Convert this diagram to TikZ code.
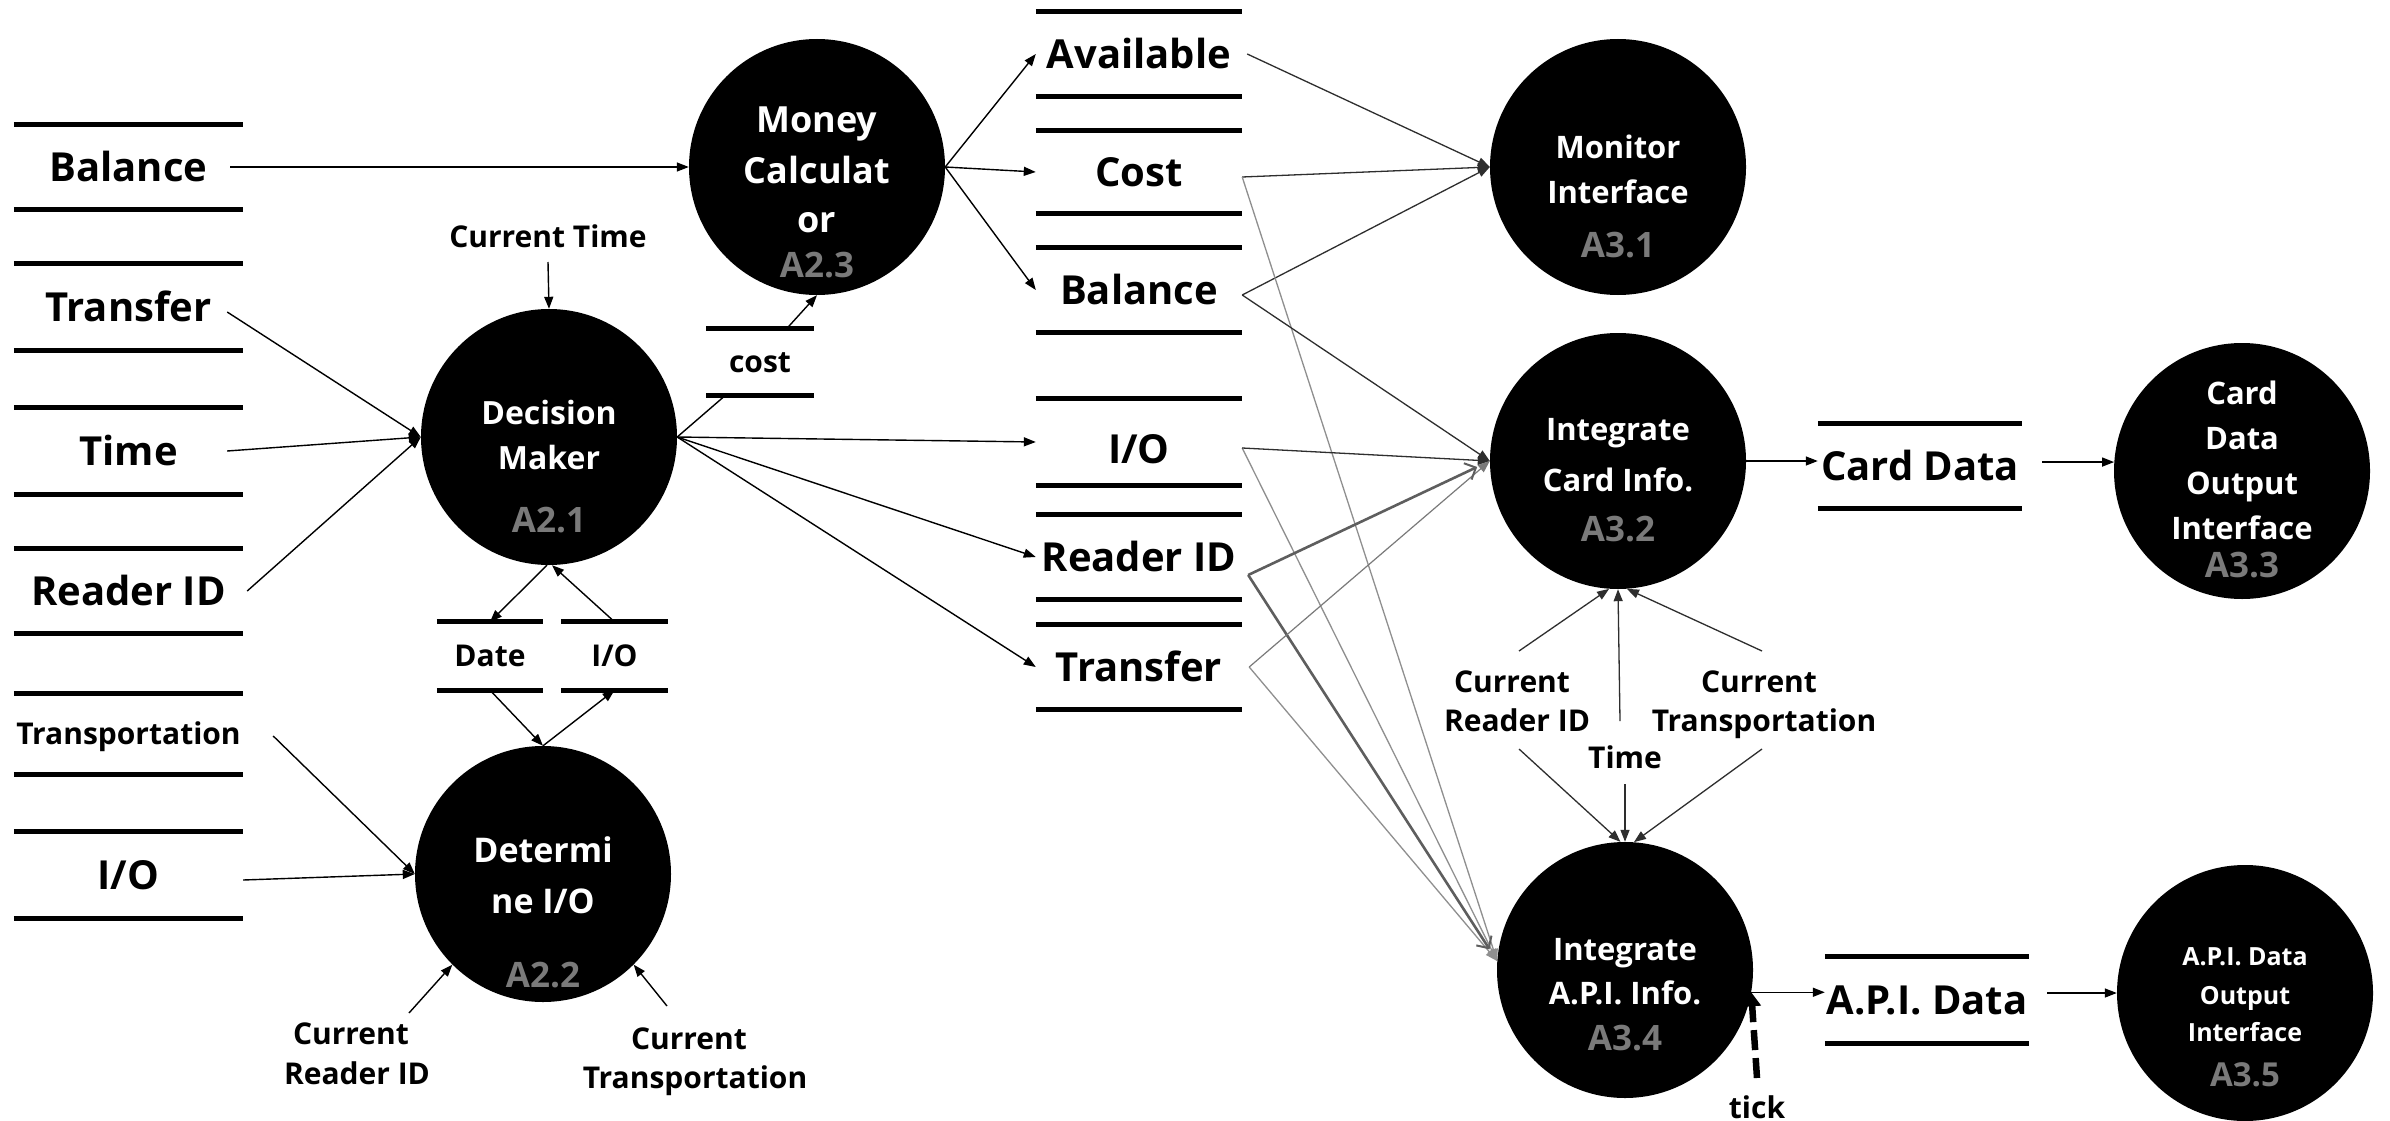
\documentclass[tikz,border=0pt]{standalone}
\usepackage{fontspec}
\setmainfont{Open Sans}
\usetikzlibrary{arrows.meta,calc}

\definecolor{idgray}{HTML}{7A7A7A}
\definecolor{darkflow}{HTML}{2E2E2E}
\definecolor{midflow}{HTML}{5E5E5E}
\definecolor{softflow}{HTML}{7A7A7A}
\definecolor{paleflow}{HTML}{8F8F8F}

\newcommand{\dfdfont}[1]{\fontsize{#1}{#1}\selectfont\bfseries}
\newcommand{\storebars}[1]{\draw[bar] (#1.north west) -- (#1.north east) (#1.south west) -- (#1.south east);}

\tikzset{
  proc/.style={circle, fill=black, minimum size=256pt, inner sep=0pt},
  ptxt/.style={anchor=base, inner sep=0pt, text=white, font=\dfdfont{#1}},
  pid/.style={anchor=base, inner sep=0pt, text=idgray, font=\dfdfont{#1}},
  lab/.style={anchor=base, inner sep=0pt, font=\dfdfont{#1}},
  bigstore/.style={inner sep=0pt, font=\dfdfont{40}, text height=28.6pt, text depth=0pt},
  smallstore/.style={inner sep=0pt, font=\dfdfont{30}, text height=21.4pt, text depth=0pt},
  bar/.style={line width=5pt},
  flow/.style={line width=1.4pt, black, -{Triangle[length=12pt,width=9pt]}},
  flowline/.style={line width=1.4pt, black},
  toMon/.style={line width=1.3pt, darkflow, -{Triangle[length=12pt,width=9pt]}},
  soft/.style={line width=1.2pt, softflow, -{Triangle[length=12pt,width=9pt]}},
  pale/.style={line width=1.3pt, paleflow, -{Triangle[length=12pt,width=9pt]}},
  heavy/.style={line width=2.6pt, midflow, -{Straight Barb[length=9pt,width=18pt,line width=2pt]}, shorten >=14pt},
  tickflow/.style={line width=6.5pt, dash pattern=on 20pt off 8pt, -{Triangle[length=14pt,width=17pt]}},
}

\begin{document}
\begin{tikzpicture}[x=1pt,y=-1pt]
\fill[white] (0,0) rectangle (2390,1121);
\useasboundingbox (0,0) rectangle (2390,1121);

% ---------- processes ----------
\node[proc] (pMC) at (817,167) {};
\node[ptxt=36] (pMCa) at (817,132) {Money};
\node[ptxt=36] (pMCb) at (817,183) {Calculat};
\node[ptxt=36] (pMCc) at (817,232) {or};
\node[pid=35] (pMCid) at (817,277) {A2.3};

\node[proc] (pDM) at (549,437) {};
\node[ptxt=32] (pDMa) at (549,424) {Decision};
\node[ptxt=32] (pDMb) at (549,469) {Maker};
\node[pid=35] (pDMid) at (549,532) {A2.1};

\node[proc] (pDet) at (543,874) {};
\node[ptxt=34] (pDeta) at (543,862) {Determi};
\node[ptxt=34] (pDetb) at (543,913) {ne I/O};
\node[pid=35] (pDetid) at (543,987) {A2.2};

\node[proc] (pMon) at (1618,167) {};
\node[ptxt=31] (pMona) at (1618,158) {Monitor};
\node[ptxt=31] (pMonb) at (1618,203) {Interface};
\node[pid=35] (pMonid) at (1618,257) {A3.1};

\node[proc] (pCard) at (1618,461) {};
\node[ptxt=31] (pCarda) at (1618,440) {Integrate};
\node[ptxt=31] (pCardb) at (1618,491) {Card Info.};
\node[pid=35] (pCardid) at (1618,541) {A3.2};

\node[proc] (pCardOut) at (2242,471) {};
\node[ptxt=31] (pCOa) at (2242,404) {Card};
\node[ptxt=31] (pCOb) at (2242,449) {Data};
\node[ptxt=31] (pCOc) at (2242,494) {Output};
\node[ptxt=31] (pCOd) at (2242,539) {Interface};
\node[pid=35] (pCOid) at (2242,577) {A3.3};

\node[proc] (pApi) at (1625,970) {};
\node[ptxt=31] (pApia) at (1625,960) {Integrate};
\node[ptxt=31] (pApib) at (1625,1004) {A.P.I. Info.};
\node[pid=35] (pApiid) at (1625,1050) {A3.4};

\node[proc] (pApiOut) at (2245,993) {};
\node[ptxt=25] (pAOa) at (2245,965) {A.P.I. Data};
\node[ptxt=25] (pAOb) at (2245,1004) {Output};
\node[ptxt=25] (pAOc) at (2245,1041) {Interface};
\node[pid=33] (pAOid) at (2245,1086) {A3.5};

% ---------- data stores, left column ----------
\node[bigstore, minimum width=229pt, minimum height=84pt] (lBal) at (128.5,167) {Balance};
\node[bigstore, minimum width=229pt, minimum height=86pt] (lTra) at (128.5,307) {Transfer};
\node[bigstore, minimum width=229pt, minimum height=86pt] (lTim) at (128.5,451) {Time};
\node[bigstore, minimum width=229pt, minimum height=84pt] (lRid) at (128.5,591) {Reader ID};
\node[smallstore, minimum width=229pt, minimum height=80pt] (lTrp) at (128.5,734) {Transportation};
\node[bigstore, minimum width=229pt, minimum height=86pt] (lIO) at (128.5,875) {I/O};

% ---------- data stores, middle column ----------
\node[bigstore, minimum width=206pt, minimum height=84pt] (mAva) at (1139,54) {Available};
\node[bigstore, minimum width=206pt, minimum height=83pt] (mCos) at (1139,172) {Cost};
\node[bigstore, minimum width=206pt, minimum height=84pt] (mBal) at (1139,290) {Balance};
\node[bigstore, minimum width=206pt, minimum height=86pt, text height=42pt] (mIO) at (1139,442) {I/O};
\node[bigstore, minimum width=206pt, minimum height=85pt] (mRid) at (1139,557) {Reader ID};
\node[bigstore, minimum width=206pt, minimum height=84pt] (mTrf) at (1139,667) {Transfer};

% ---------- small and output stores ----------
\node[smallstore, minimum width=107pt, minimum height=67pt] (sCost) at (760,362) {cost};
\node[smallstore, minimum width=106pt, minimum height=68pt] (sDate) at (490,656) {Date};
\node[smallstore, minimum width=107pt, minimum height=68pt] (sIO) at (614.5,656) {I/O};
\node[bigstore, minimum width=204pt, minimum height=85pt] (sCard) at (1920,466) {Card Data};
\node[bigstore, minimum width=204pt, minimum height=86pt] (sApi) at (1927,1000) {A.P.I. Data};

\foreach \s in {lBal,lTra,lTim,lRid,lTrp,lIO,mAva,mCos,mBal,mIO,mRid,mTrf,sCost,sDate,sIO,sCard,sApi}{\storebars{\s}}

% ---------- free labels ----------
\node[lab=30] (tCurTime) at (548,247) {Current Time};
\node[lab=30] (tCR1a) at (351,1044) {Current};
\node[lab=30] (tCR1b) at (357,1084) {Reader ID};
\node[lab=30] (tCT1a) at (689,1049) {Current};
\node[lab=30] (tCT1b) at (695,1088) {Transportation};
\node[lab=30] (tCR2a) at (1512,692) {Current};
\node[lab=30] (tCR2b) at (1517,731) {Reader ID};
\node[lab=30] (tTime) at (1625,768) {Time};
\node[lab=30] (tCT2a) at (1759,692) {Current};
\node[lab=30] (tCT2b) at (1764,731) {Transportation};
\node[lab=30] (tTick) at (1757,1118) {tick};

% ---------- flows into A2.1 / A2.2 / A2.3 ----------
\draw[flow] ([xshift=-13pt]lBal.east) -- (pMC.west);
\draw[flow] ([xshift=-16pt,yshift=-5pt]lTra.east) -- (pDM.west);
\draw[flow] ([xshift=-16pt]lTim.east) -- (pDM.west);
\draw[flow] ([xshift=4pt]lRid.east) -- (pDM.west);
\draw[flow] ([xshift=30pt,yshift=-2pt]lTrp.east) -- (pDet.west);
\draw[flow] ([yshift=-5pt]lIO.east) -- (pDet.west);

\draw[flow] ([yshift=-15pt]tCurTime.base) -- (pDM.north);
\draw[flowline] (pDM.east) -- ([xshift=-35pt]sCost.south);
\draw[flow] ([xshift=27pt]sCost.north) -- (pMC.south);
\draw[flow] ([xshift=-2pt]pDM.south) -- (sDate.north);
\draw[flow] (sIO.north) -- ([xshift=3pt]pDM.south);
\draw[flow] (sDate.south) -- (pDet.north);
\draw[flow] (pDet.north) -- (sIO.south);

\draw[flow] ([xshift=58pt,yshift=31pt]tCR1a.base) -- (pDet.225);
\draw[flow] ([xshift=-22pt,yshift=43pt]tCT1a.base) -- (pDet.315);

% ---------- outputs of A2.1 and A2.3 ----------
\draw[flow] (pDM.east) -- (mIO.west);
\draw[flow] (pDM.east) -- (mRid.west);
\draw[flow] (pDM.east) -- (mTrf.west);
\draw[flow] (pMC.east) -- (mAva.west);
\draw[flow] (pMC.east) -- (mCos.west);
\draw[flow] (pMC.east) -- (mBal.west);

% ---------- into A3.1 ----------
\draw[toMon] ([xshift=5pt]mAva.east) -- (pMon.west);
\draw[toMon] ([yshift=-5pt]mCos.east) -- (pMon.west);
\draw[toMon] ([yshift=-5pt]mBal.east) -- (pMon.west);

% ---------- into A3.2 and A3.4 ----------
\draw[pale] ([yshift=-5pt]mCos.east) -- (pApi.176);
\draw[pale] ([yshift=-6pt]mIO.east) -- (pApi.176);
\draw[pale] ([xshift=7pt]mTrf.east) -- (pApi.176);
\draw[heavy] ([xshift=6pt,yshift=-18pt]mRid.east) -- (pApi.176);
\draw[soft] ([xshift=7pt]mTrf.east) -- (pCard.west);
\draw[heavy] ([xshift=6pt,yshift=-18pt]mRid.east) -- (pCard.west);
\draw[toMon] ([yshift=-5pt]mBal.east) -- (pCard.west);
\draw[toMon] ([yshift=-6pt]mIO.east) -- (pCard.west);

\draw[toMon] ([xshift=7pt,yshift=41pt]tCR2a.base) -- (pCard.266);
\draw[toMon] ([xshift=-5pt,yshift=47pt]tTime.base) -- (pCard.270);
\draw[toMon] ([xshift=3pt,yshift=41pt]tCT2a.base) -- (pCard.274);
\draw[toMon] ([xshift=2pt,yshift=-18pt]tCR2b.base) -- (pApi.92);
\draw[toMon] ([yshift=-16pt]tTime.base) -- (pApi.north);
\draw[toMon] ([xshift=-2pt,yshift=-18pt]tCT2b.base) -- (pApi.86);

% ---------- output interfaces ----------
\draw[flow] (pCard.east) -- (pCard.east -| sCard.west);
\draw[flow] ($(sCard.east |- pCardOut.176)+(20,0)$) -- (pCardOut.176);
\draw[flow] (pApi.-10) -- (pApi.-10 -| sApi.west);
\draw[flow] ($(sApi.east |- pApiOut.west)+(18,0)$) -- (pApiOut.west);
\draw[tickflow] ([yshift=40pt]tTick.base) -- (pApi.-10);
\end{tikzpicture}
\end{document}
